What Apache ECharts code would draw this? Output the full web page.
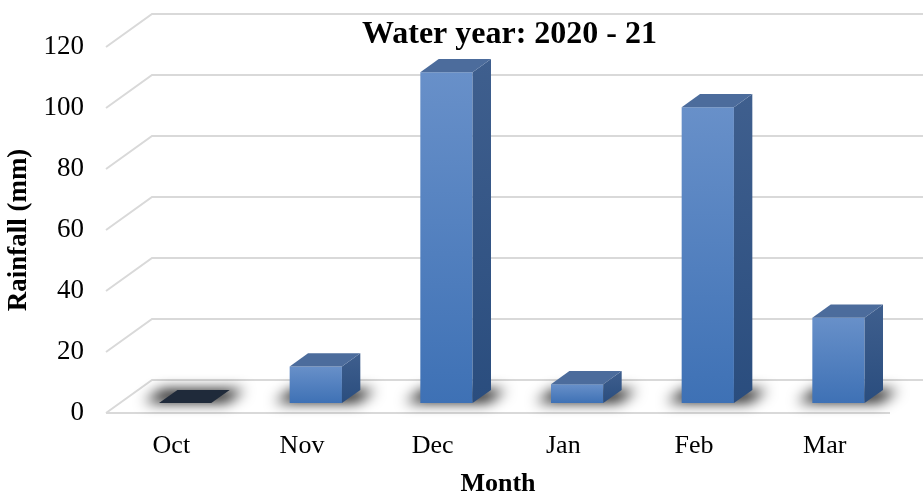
<!DOCTYPE html>
<html>
<head>
<meta charset="utf-8">
<script src="https://cdn.jsdelivr.net/npm/echarts@6/dist/echarts.min.js"></script>
<style>
  html, body { margin: 0; padding: 0; background: #fff; }
  #chart { width: 923px; height: 492px; }
</style>
</head>
<body>
<div id="chart"></div>
<script>
// data
const months = ['Oct', 'Nov', 'Dec', 'Jan', 'Feb', 'Mar'];
const rainfall = [0, 12, 108.5, 6.2, 97, 28];
const yTicks = [0, 20, 40, 60, 80, 100, 120];

// fake 3D: full floor depth offset in px, bar sits between F0 and F1 of depth
const DX = 46, DY = -33;
const F0 = 0.3, F1 = 0.7, BW = 0.4;
const FONT = "'Liberation Serif', 'Times New Roman', serif";

const chart = echarts.init(document.getElementById('chart'));

function renderWall(params, api) {
  const cs = params.coordSys;
  const y = api.coord([0, api.value(1)])[1];
  const children = [{
    type: 'polyline',
    shape: { points: [[cs.x, y], [cs.x + DX, y + DY], [cs.x + cs.width + DX + 20, y + DY]] },
    style: { stroke: '#d9d9d9', lineWidth: 2, fill: null }
  }];
  if (api.value(1) === 0) {
    children.push({
      type: 'line',
      shape: { x1: cs.x, y1: y, x2: cs.x + cs.width, y2: y },
      style: { stroke: '#d9d9d9', lineWidth: 2 }
    });
  }
  return { type: 'group', children };
}

function barGeom(api) {
  const i = api.value(0), v = api.value(1);
  const top = api.coord([i, v]);
  const base = api.coord([i, 0]);
  const w = api.size([1, 0])[0] * BW;
  const x0 = base[0] - w / 2 + F0 * DX;
  return {
    v, x0, x1: x0 + w, w,
    yb: base[1] + F0 * DY,
    yt: top[1] + F0 * DY,
    ddx: (F1 - F0) * DX,
    ddy: (F1 - F0) * DY
  };
}

// blurred floor shadow; the shape itself is drawn off-canvas, only its shadow lands
function renderShadow(params, api) {
  const g = barGeom(api);
  const OFF = 3000, pad = 15;
  return {
    type: 'polygon',
    shape: { points: [
      [g.x0 - pad - OFF, g.yb - 1], [g.x1 + pad - OFF, g.yb - 1],
      [g.x1 + g.ddx + pad - OFF, g.yb + g.ddy], [g.x0 + g.ddx - pad - OFF, g.yb + g.ddy]
    ] },
    style: {
      fill: '#000',
      shadowBlur: 14,
      shadowColor: 'rgba(0,0,0,1)',
      shadowOffsetX: OFF
    }
  };
}

function renderBar(params, api) {
  const g = barGeom(api);
  const topFace = [[g.x0, g.yt], [g.x1, g.yt], [g.x1 + g.ddx, g.yt + g.ddy], [g.x0 + g.ddx, g.yt + g.ddy]];
  if (g.v === 0) {
    return { type: 'polygon', shape: { points: topFace }, style: { fill: '#1f2a3a' } };
  }
  return {
    type: 'group',
    children: [
      {
        type: 'rect',
        shape: { x: g.x0, y: g.yt, width: g.w, height: g.yb - g.yt },
        style: {
          fill: new echarts.graphic.LinearGradient(0, 0, 0, 1, [
            { offset: 0, color: '#6890c9' },
            { offset: 1, color: '#3e71b5' }
          ])
        }
      },
      {
        type: 'polygon',
        shape: { points: [[g.x1, g.yt], [g.x1 + g.ddx, g.yt + g.ddy], [g.x1 + g.ddx, g.yb + g.ddy], [g.x1, g.yb]] },
        style: {
          fill: new echarts.graphic.LinearGradient(0, 0, 0, 1, [
            { offset: 0, color: '#3f5f8e' },
            { offset: 1, color: '#2a4d7e' }
          ])
        }
      },
      {
        type: 'polygon',
        shape: { points: topFace },
        style: { fill: '#4c6c9c' }
      }
    ]
  };
}

const option = {
  animation: false,
  title: {
    text: 'Water year: 2020 - 21',
    left: 357,
    top: 14,
    textStyle: { fontFamily: FONT, fontSize: 32, fontWeight: 'bold', color: '#000' }
  },
  grid: { left: 106, right: 33, top: 47, bottom: 79, outerBoundsMode: 'none' },
  xAxis: {
    type: 'category',
    data: months,
    name: 'Month',
    nameLocation: 'middle',
    nameGap: 58,
    nameTextStyle: { fontFamily: FONT, fontSize: 26, fontWeight: 'bold', color: '#000' },
    axisLine: { show: false },
    axisTick: { show: false },
    axisLabel: { fontFamily: FONT, fontSize: 26, color: '#000', margin: 20 }
  },
  yAxis: {
    type: 'value',
    min: 0,
    max: 120,
    interval: 20,
    name: 'Rainfall (mm)',
    nameLocation: 'middle',
    nameGap: 71,
    nameTextStyle: { fontFamily: FONT, fontSize: 27, fontWeight: 'bold', color: '#000' },
    axisLine: { show: false },
    axisTick: { show: false },
    splitLine: { show: false },
    axisLabel: { fontFamily: FONT, fontSize: 27, color: '#000', margin: 22 }
  },
  series: [
    {
      type: 'custom',
      name: 'walls',
      renderItem: renderWall,
      data: yTicks.map(v => [0, v]),
      z: 1,
      silent: true
    },
    {
      type: 'custom',
      name: 'shadow',
      renderItem: renderShadow,
      data: rainfall.map((v, i) => [i, v]),
      z: 2,
      silent: true
    },
    {
      type: 'custom',
      name: 'Rainfall',
      renderItem: renderBar,
      data: rainfall.map((v, i) => [i, v]),
      z: 3
    }
  ]
};

chart.setOption(option);
</script>
</body>
</html>
